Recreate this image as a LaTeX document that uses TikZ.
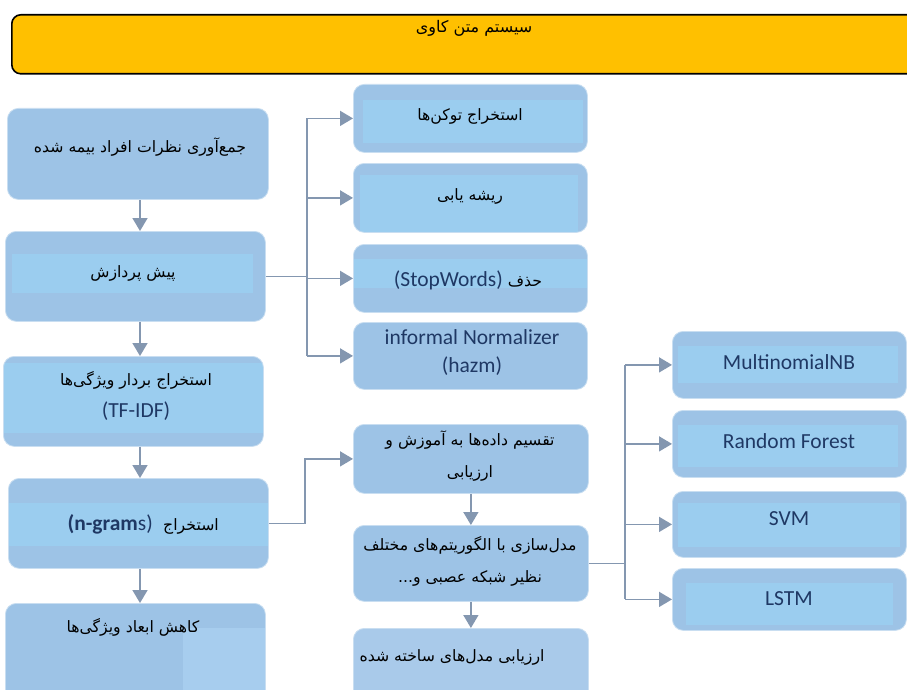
\documentclass[tikz,border=0pt]{standalone}
\usepackage{fontspec}
\setmainfont{Carlito}
\newfontfamily\fa[Script=Arabic]{DejaVu Sans}
\TeXXeTstate=1
\usetikzlibrary{arrows.meta,calc}
\definecolor{boxc}{HTML}{9DC3E6}
\definecolor{bandc}{HTML}{9BCDEF}
\definecolor{lightc}{HTML}{A7CDEE}
\definecolor{evalc}{HTML}{A9CAEA}
\definecolor{linec}{HTML}{8497B0}
\definecolor{navy}{HTML}{1F3864}
\definecolor{gold}{HTML}{FFC000}
\newcommand{\RL}[1]{\beginR #1\endR}
\newcommand{\entext}[1]{{\color{navy}\rmfamily\fontsize{21.5}{32}\selectfont #1}}
\tikzset{
  bx/.style={draw=boxc!55!white, line width=0.8pt, fill=boxc, rounded corners=11pt,
    inner sep=0pt, anchor=north west},
  bandx/.style n args={4}{path picture={\fill[bandc, sharp corners]
      ([xshift=#1pt,yshift=-#2pt]path picture bounding box.north west) rectangle
      ([xshift=-#3pt,yshift=-#4pt]path picture bounding box.north east);}},
  fa1/.style={inner sep=0pt, text=black, font=\fa\fontsize{15.7}{32}\selectfont},
  fatxt/.style={fa1, align=center},
  entxt/.style={inner sep=0pt, text=navy, font=\fontsize{21.5}{28}\selectfont, align=center},
  conn/.style={draw=linec, line width=1.6pt},
  arr/.style={conn, -{Triangle[length=13pt,width=15pt]}}
}
\begin{document}
\begin{tikzpicture}[x=1pt,y=-1pt]
\useasboundingbox (0,0) rectangle (907,690);
\clip (0,0) rectangle (907,690);
\fill[white] (0,0) rectangle (907,690);
% title
\node[draw=black, line width=1.6pt, fill=gold, rounded corners=9pt, inner sep=0pt,
  anchor=north west, minimum width=940pt, minimum height=59pt] (title) at (11,14) {};
\node[fa1, font=\fa\fontsize{16}{18}\selectfont] (titlet) at (474,28) {\RL{سیستم متن کاوی}};
% left column
\node[bx, minimum width=261pt, minimum height=91pt] (l1) at (7,108) {};
\node[bx, minimum width=260pt, minimum height=90pt, bandx={7}{23}{12}{62}] (l2) at (5,231) {};
\node[bx, minimum width=260pt, minimum height=90pt, bandx={0}{7}{0}{77}] (l3) at (3,356) {};
\node[bx, minimum width=260pt, minimum height=90pt, bandx={0}{25}{0}{68}] (l4) at (8,478) {};
\node[bx, minimum width=260pt, minimum height=100pt, bandx={0}{7}{0}{100},
  path picture={\fill[lightc, sharp corners] ([xshift=178pt,yshift=-25pt]path picture bounding box.north west)
    rectangle (path picture bounding box.south east);}] (l5) at (5,603) {};
% middle column
\node[bx, minimum width=234pt, minimum height=68pt, bandx={10}{16}{4}{59}] (m1) at (353,84) {};
\node[bx, minimum width=234pt, minimum height=69pt, bandx={7}{12}{9}{69}] (m2) at (353,163) {};
\node[bx, minimum width=234pt, minimum height=68pt, bandx={0}{15}{0}{44}] (m3) at (353,244) {};
\node[bx, minimum width=234pt, minimum height=67pt] (m4) at (353,322) {};
\node[bx, minimum width=235pt, minimum height=69pt] (m5) at (353,424) {};
\node[bx, minimum width=235pt, minimum height=76pt] (m6) at (353,525) {};
\node[bx, minimum width=235pt, minimum height=80pt, fill=evalc] (m7) at (353,628) {};
% right column
\node[bx, minimum width=234pt, minimum height=67pt, bandx={6}{15}{8}{52}] (r1) at (672,331) {};
\node[bx, minimum width=234pt, minimum height=67pt, bandx={6}{15}{8}{57}] (r2) at (672,410) {};
\node[bx, minimum width=234pt, minimum height=66pt, bandx={6}{12}{6}{56}] (r3) at (672,491) {};
\node[bx, minimum width=234pt, minimum height=62pt, bandx={14}{15}{13}{57}] (r4) at (672,568) {};
% texts
\node[fa1] (l1t) at (140,147) {\RL{جمع‌آوری نظرات افراد بیمه شده}};
\node[fa1] (l2t) at (133,273) {\RL{پیش پردازش}};
\node[fatxt] (l3t) at (136,396) {\RL{استخراج بردار ویژگی‌ها}\\\entext{(TF-IDF)}};
\node[entxt, anchor=base east] (l4a) at (153,530) {\textbf{(n-gram}s)};
\node[fa1, anchor=base west] (l4b) at (163,530) {\RL{استخراج}};
\node[fa1] (l5t) at (133,627) {\RL{کاهش ابعاد ویژگی‌ها}};
\node[fa1] (m1t) at (470,116) {\RL{استخراج توکن‌ها}};
\node[fa1] (m2t) at (470,196) {\RL{ریشه یابی}};
\node[fa1] (m3t) at (468,280) {\entext{(StopWords)}\ \RL{حذف}};
\node[entxt] (m4t) at (472,353) {informal Normalizer\\(hazm)};
\node[fatxt] (m5t) at (470,456) {\RL{تقسیم داده‌ها به آموزش و}\\\RL{ارزیابی}};
\node[fatxt] (m6t) at (470,561) {\RL{مدل‌سازی با الگوریتم‌های مختلف}\\\RL{نظیر شبکه عصبی و...}};
\node[fa1] (m7t) at (452,657) {\RL{ارزیابی مدل‌های ساخته شده}};
\node[entxt] (r1t) at (789,362) {MultinomialNB};
\node[entxt] (r2t) at (789,441) {Random Forest};
\node[entxt] (r3t) at (789,519) {SVM};
\node[entxt] (r4t) at (789,599) {LSTM};
% connectors
\coordinate (ax) at (140,0);
\draw[arr] (l1.south -| ax) -- (l2.north -| ax);
\draw[arr] (l2.south -| ax) -- (l3.north -| ax);
\draw[arr] (l3.south -| ax) -- (l4.north -| ax);
\draw[arr] (l4.south -| ax) -- (l5.north -| ax);
\draw[arr] (m5.south) -- (m6.north);
\draw[arr] (m6.south) -- (m7.north);
\coordinate (b1) at (307,0);
\draw[conn] (l2.east) -- (l2.east -| b1);
\draw[conn] (m1.west -| b1) -- (m4.west -| b1);
\foreach \n in {m1,m2,m3,m4} \draw[arr] (\n.west -| b1) -- (\n.west);
\coordinate (b2) at (305,0);
\draw[arr] (l4.east) -- (l4.east -| b2) |- (m5.west);
\coordinate (b3) at (625,0);
\draw[conn] (m6.east) -- (m6.east -| b3);
\draw[conn] (r1.west -| b3) -- (r4.west -| b3);
\foreach \n in {r1,r2,r3,r4} \draw[arr] (\n.west -| b3) -- (\n.west);
\end{tikzpicture}
\end{document}
